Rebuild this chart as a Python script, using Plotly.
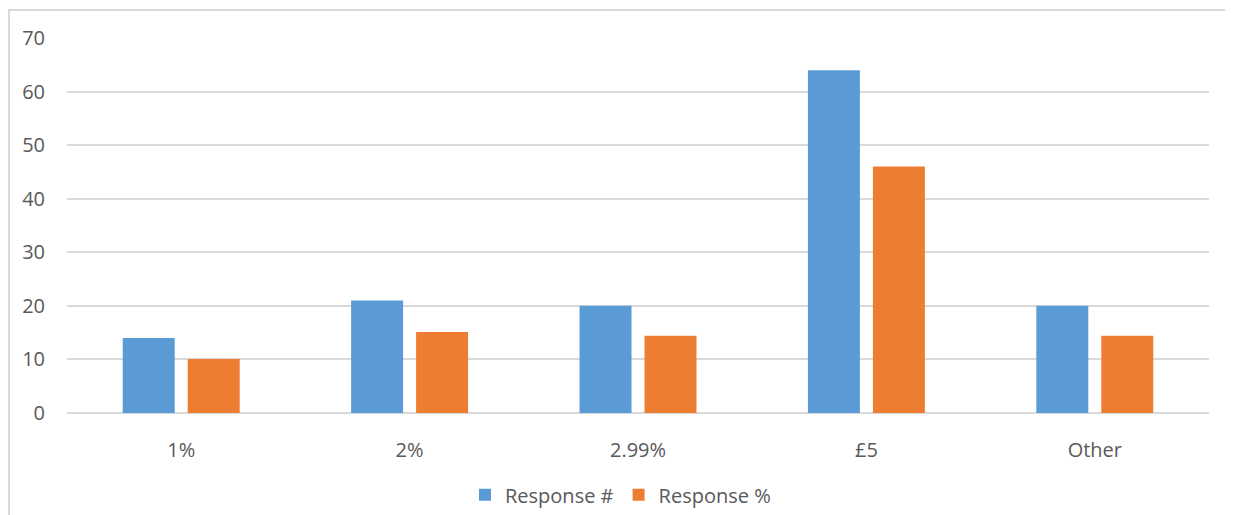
import plotly.graph_objects as go

categories = ["1%", "2%", "2.99%", "£5", "Other"]
response_count = [14, 21, 20, 64, 20]
response_pct = [10.1, 15.1, 14.4, 46.0, 14.4]
y_ticks = [0, 10, 20, 30, 40, 50, 60, 70]

BLUE = "#5B9BD5"
ORANGE = "#ED7D31"
TEXT = "#595959"
GRID = "#D9D9D9"
FONT = "Open Sans"

fig = go.Figure()
fig.add_trace(go.Bar(name="Response #", x=categories, y=response_count,
                     marker=dict(color=BLUE, line=dict(width=0))))
fig.add_trace(go.Bar(name="Response %", x=categories, y=response_pct,
                     marker=dict(color=ORANGE, line=dict(width=0))))

# plot area: 1142 wide, 375 tall
fig.update_layout(
    width=1225, height=507,
    margin=dict(l=59, r=24, t=30, b=102),
    paper_bgcolor="white", plot_bgcolor="white",
    barmode="group", bargap=0.431, bargroupgap=0.2,
    font=dict(family=FONT, size=20, color=TEXT),
    showlegend=True,
    legend=dict(orientation="h", xref="container", x=0.5, xanchor="center",
                yref="container", y=0.04, yanchor="middle",
                font=dict(family=FONT, size=20, color=TEXT),
                traceorder="normal"),
    xaxis=dict(showgrid=False, showline=False, zeroline=False,
               ticks="outside", ticklen=19, tickcolor="rgba(0,0,0,0)",
               tickfont=dict(family=FONT, size=20, color=TEXT)),
    yaxis=dict(range=[0, 70], tickvals=y_ticks, showgrid=True,
               gridcolor=GRID, gridwidth=1.5, zeroline=True,
               zerolinecolor=GRID, zerolinewidth=1.5, showline=False,
               ticks="outside", ticklen=17, tickcolor="rgba(0,0,0,0)",
               tickfont=dict(family=FONT, size=20, color=TEXT)),
    shapes=[dict(type="path", xref="paper", yref="paper",
                 path="M 1.1,1.0747 L -0.0508,1.0747 L -0.0508,-0.5",
                 line=dict(color=GRID, width=2), layer="below")],
)

fig.write_html("out.html")
